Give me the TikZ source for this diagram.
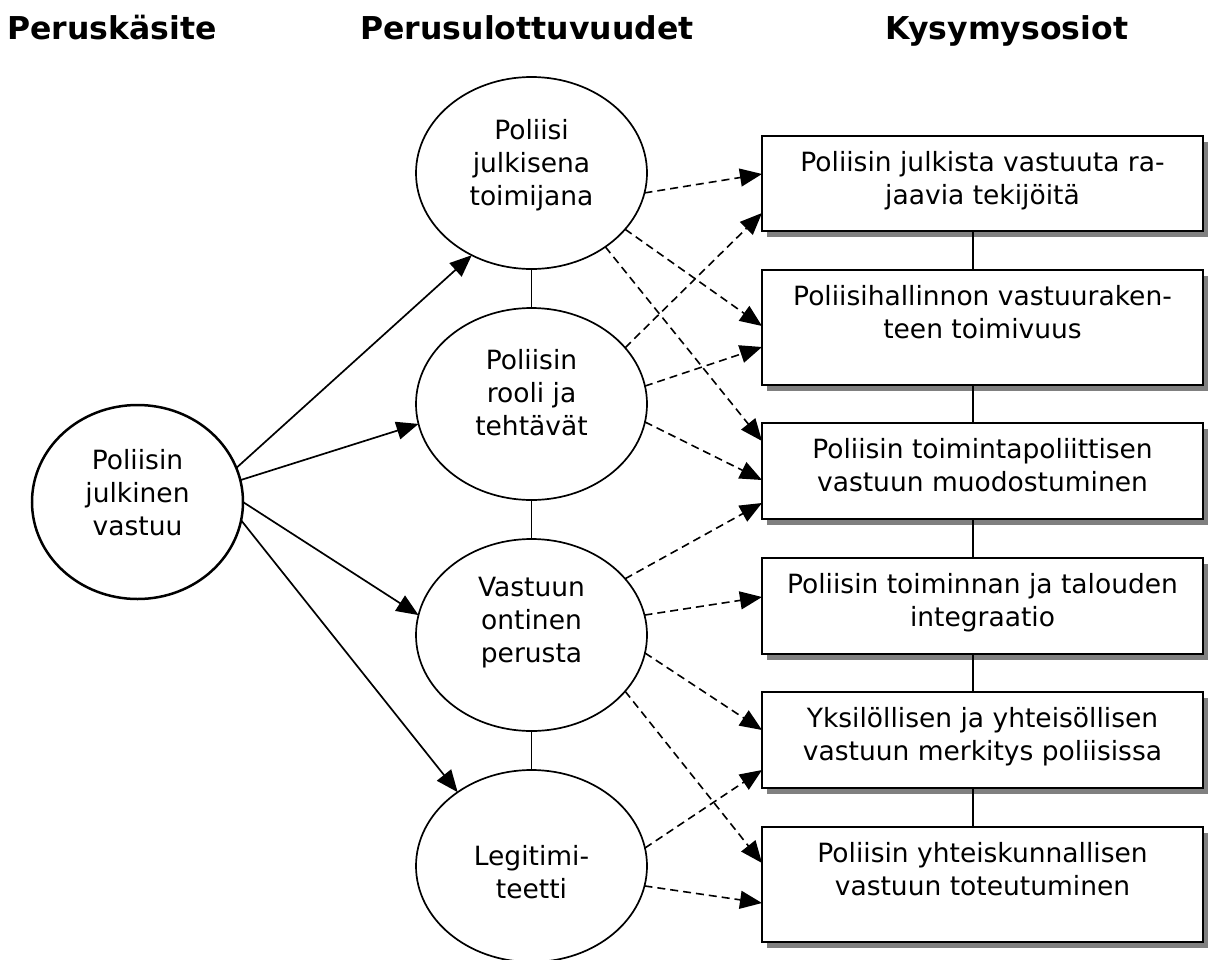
\documentclass[tikz,border=0pt]{standalone}
\usepackage{fontspec}
\setmainfont{DejaVu Sans}
\usetikzlibrary{arrows.meta,shapes.geometric,shadows,calc}
\begin{document}
\begin{tikzpicture}[x=1pt,y=-1pt,
  every node/.style={inner sep=0pt, outer sep=0pt},
  heading/.style={font=\bfseries\fontsize{31.5}{38}\selectfont, anchor=base},
  dim/.style={ellipse, draw, line width=1.7pt, fill=white, minimum width=231pt, minimum height=192pt},
  concept/.style={ellipse, draw, line width=2.5pt, fill=white, minimum width=211pt, minimum height=194pt},
  txt/.style={font=\fontsize{26.5}{33}\selectfont, align=center},
  qbox/.style={draw, line width=2.3pt, fill=white, minimum width=441pt, anchor=north west,
    drop shadow={shadow xshift=5pt, shadow yshift=-6pt, fill=black!50, opacity=1}},
  tip/.style={-{Triangle[length=22pt,width=18pt]}},
  solidarrow/.style={line width=1.7pt, tip},
  dasharrow/.style={line width=1.6pt, dash pattern=on 8pt off 5pt, tip},
  link/.style={line width=1.6pt}
]
\useasboundingbox (0,0) rectangle (1208,959);

% column headings
\node[heading] (h1) at (112,39) {Peruskäsite};
\node[heading] (h2) at (527,39) {Perusulottuvuudet};
\node[heading] (h3) at (1007,39) {Kysymysosiot};

% main concept
\node[concept] (e0) at (137.5,502) {};
\node[txt] (e0t) at (137.5,493) {Poliisin\\julkinen\\vastuu};

% dimensions
\node[dim] (e1) at (531.5,173) {};
\node[dim] (e2) at (531.5,404) {};
\node[dim] (e3) at (531.5,635) {};
\node[dim] (e4) at (531.5,866) {};
\node[txt] (e1t) at (531.5,165) {Poliisi\\julkisena\\toimijana};
\node[txt] (e2t) at (531.5,393) {Poliisin\\rooli ja\\tehtävät};
\node[txt] (e3t) at (531.5,623) {Vastuun\\ontinen\\perusta};
\node[txt] (e4t) at (531.5,872.5) {Legitimi-\\teetti};

\draw[link] (e1.south) -- (e2.north);
\draw[link] (e2.south) -- (e3.north);
\draw[link] (e3.south) -- (e4.north);

% question parts
\node[qbox, minimum height=95pt]  (b1) at (762,136) {};
\node[qbox, minimum height=115pt] (b2) at (762,270) {};
\node[qbox, minimum height=96pt]  (b3) at (762,423) {};
\node[qbox, minimum height=96pt]  (b4) at (762,558) {};
\node[qbox, minimum height=96pt]  (b5) at (762,692) {};
\node[qbox, minimum height=115pt] (b6) at (762,827) {};

\node[txt, anchor=north] (b1t) at ($(b1.north)+(0,15.5)$) {Poliisin julkista vastuuta ra-\\jaavia tekijöitä};
\node[txt, anchor=north] (b2t) at ($(b2.north)+(0,15.5)$) {Poliisihallinnon vastuuraken-\\teen toimivuus};
\node[txt, anchor=north] (b3t) at ($(b3.north)+(0,15.5)$) {Poliisin toimintapoliittisen\\vastuun muodostuminen};
\node[txt, anchor=north] (b4t) at ($(b4.north)+(0,15.5)$) {Poliisin toiminnan ja talouden\\integraatio};
\node[txt, anchor=north] (b5t) at ($(b5.north)+(0,15.5)$) {Yksilöllisen ja yhteisöllisen\\vastuun merkitys poliisissa};
\node[txt, anchor=north] (b6t) at ($(b6.north)+(0,15.5)$) {Poliisin yhteiskunnallisen\\vastuun toteutuminen};

\coordinate (cx) at (973,0);
\draw[link] (b1.south -| cx) -- (b2.north -| cx);
\draw[link] (b2.south -| cx) -- (b3.north -| cx);
\draw[link] (b3.south -| cx) -- (b4.north -| cx);
\draw[link] (b4.south -| cx) -- (b5.north -| cx);
\draw[link] (b5.south -| cx) -- (b6.north -| cx);

% concept to dimensions
\draw[solidarrow] (e0.19) -- (e1.234);
\draw[solidarrow] (e0.12) -- (e2.190);
\draw[solidarrow] (e0.0) -- (e3.170);
\draw[solidarrow] (e0.-10) -- (e4.135);

% dimensions to question parts
\draw[dasharrow] (e1.-10) -- ([yshift=-38pt]b1.north west);
\draw[dasharrow] (e1.-31) -- ([yshift=-56pt]b2.north west);
\draw[dasharrow] (e1.-45) -- ([yshift=-18pt]b3.north west);
\draw[dasharrow] (e2.31) -- ([yshift=-77pt]b1.north west);
\draw[dasharrow] (e2.9) -- ([yshift=-77pt]b2.north west);
\draw[dasharrow] (e2.-9) -- ([yshift=-57pt]b3.north west);
\draw[dasharrow] (e3.31) -- ([yshift=-80pt]b3.north west);
\draw[dasharrow] (e3.10) -- ([yshift=-39pt]b4.north west);
\draw[dasharrow] (e3.-9) -- ([yshift=-38pt]b5.north west);
\draw[dasharrow] (e3.-31) -- ([yshift=-36pt]b6.north west);
\draw[dasharrow] (e4.9) -- ([yshift=-78pt]b5.north west);
\draw[dasharrow] (e4.-10) -- ([yshift=-76pt]b6.north west);
\end{tikzpicture}
\end{document}
